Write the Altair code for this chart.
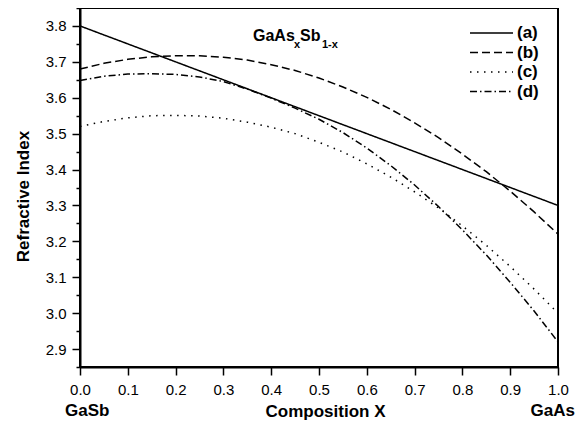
import altair as alt
import pandas as pd

# ---- data ----
x_vals = [0.0, 0.05, 0.1, 0.15, 0.2, 0.25, 0.3, 0.35, 0.4, 0.45, 0.5,
          0.55, 0.6, 0.65, 0.7, 0.75, 0.8, 0.85, 0.9, 0.95, 1.0]
series_a = [3.800, 3.775, 3.750, 3.725, 3.700, 3.675, 3.650, 3.625, 3.600, 3.575, 3.550,
            3.525, 3.500, 3.475, 3.450, 3.425, 3.400, 3.375, 3.350, 3.325, 3.300]
series_b = [3.680, 3.696, 3.707, 3.714, 3.717, 3.717, 3.713, 3.705, 3.692, 3.676, 3.655,
            3.630, 3.601, 3.568, 3.530, 3.489, 3.443, 3.394, 3.340, 3.282, 3.220]
series_c = [3.520, 3.534, 3.544, 3.550, 3.551, 3.549, 3.543, 3.532, 3.518, 3.500, 3.476,
            3.449, 3.416, 3.379, 3.338, 3.293, 3.243, 3.189, 3.130, 3.067, 3.000]
series_d = [3.648, 3.660, 3.666, 3.667, 3.665, 3.658, 3.645, 3.624, 3.599, 3.571, 3.540,
            3.503, 3.460, 3.411, 3.357, 3.297, 3.232, 3.162, 3.086, 3.006, 2.920]
labels = ["(a)", "(b)", "(c)", "(d)"]
dashes = [[1, 0], [8, 4], [1.5, 5.5], [7, 3, 1.5, 3]]
x_ticks = [0.0, 0.1, 0.2, 0.3, 0.4, 0.5, 0.6, 0.7, 0.8, 0.9, 1.0]
y_ticks = [2.85, 2.9, 2.95, 3.0, 3.05, 3.1, 3.15, 3.2, 3.25, 3.3, 3.35,
           3.4, 3.45, 3.5, 3.55, 3.6, 3.65, 3.7, 3.75, 3.8, 3.85]

rows = []
for lab, vals in zip(labels, [series_a, series_b, series_c, series_d]):
    for xv, yv in zip(x_vals, vals):
        rows.append({"x": xv, "n": yv, "series": lab})
df = pd.DataFrame(rows)
leg_df = pd.DataFrame({"series": labels})

FONT = "Liberation Sans"
W, H = 478, 359
ydom = [2.85, 3.85]
xscale = alt.Scale(domain=[0, 1], nice=False, zero=False)
dash_scale = alt.Scale(domain=labels, range=dashes)
leg_scale = alt.Scale(type="point", domain=labels, range=[25, 83.5], padding=0)
is_major = "abs(datum.value * 10 - round(datum.value * 10)) < 0.01"

lines = alt.Chart(df).mark_line(color="black", strokeWidth=1.5, strokeCap="butt").encode(
    x=alt.X("x:Q", scale=xscale,
            axis=alt.Axis(values=x_ticks, format=".1f", title="Composition X",
                          tickSize=8, labelPadding=7, labelFontSize=15, labelFlush=False,
                          titleFontSize=17, titleFontWeight="bold",
                          titleX=245, titleY=49, titleBaseline="alphabetic",
                          titleAlign="center")),
    y=alt.Y("n:Q", scale=alt.Scale(domain=ydom, nice=False, zero=False),
            axis=alt.Axis(values=y_ticks, title="Refractive Index",
                          labelExpr=f"{is_major} ? format(datum.value, '.1f') : ''",
                          tickSize={"condition": {"test": is_major, "value": 8}, "value": 4},
                          labelPadding=6, labelFontSize=15, labelFlush=False,
                          titleFontSize=17, titleFontWeight="bold",
                          titleAngle=-90, titleX=-52, titleY=188,
                          titleAlign="center", titleBaseline="alphabetic", orient="left")),
    strokeDash=alt.StrokeDash("series:N", scale=dash_scale, legend=None),
    detail="series:N",
)

leg_rules = alt.Chart(leg_df).mark_rule(color="black", strokeWidth=1.5, strokeCap="butt").encode(
    x=alt.value(390), x2=alt.value(433),
    y=alt.Y("series:N", scale=leg_scale, axis=None),
    strokeDash=alt.StrokeDash("series:N", scale=dash_scale, legend=None),
)
leg_text = alt.Chart(leg_df).mark_text(align="left", baseline="middle", font=FONT,
                                       fontSize=17, fontWeight="bold", color="black").encode(
    x=alt.value(437),
    y=alt.Y("series:N", scale=leg_scale, axis=None),
    text="series:N",
)

one = pd.DataFrame({"k": [0]})
def label(txt, x, y, size, align="left"):
    return alt.Chart(one).mark_text(align=align, baseline="alphabetic", font=FONT,
                                    fontSize=size, fontWeight="bold", color="black").encode(
        x=alt.value(x), y=alt.value(y), text=alt.value(txt))

t1 = label("GaAs", 173, 33, 16)
t2 = label("x", 214, 40, 11)
t3 = label("Sb", 220, 33, 16)
t4 = label("1-x", 242, 40, 11)
gasb = label("GaSb", -15, 408, 17)
gaas = label("GaAs", 495, 408, 17, align="right")

chart = alt.layer(lines, leg_rules, leg_text, t1, t2, t3, t4, gasb, gaas).resolve_scale(
    y="independent"
).resolve_axis(y="independent").properties(
    width=W, height=H,
    autosize=alt.AutoSizeParams(type="none"),
    padding={"left": 72, "top": 0, "right": 17, "bottom": 53},
).configure_view(stroke="black", strokeWidth=2).configure_axis(
    grid=False, domainColor="black", domainWidth=2, tickColor="black", tickWidth=1.5,
    labelColor="black", titleColor="black", labelFont=FONT, titleFont=FONT,
).configure_text(font=FONT)

chart.save("out.html", embed_options={"renderer": "svg", "actions": False})
